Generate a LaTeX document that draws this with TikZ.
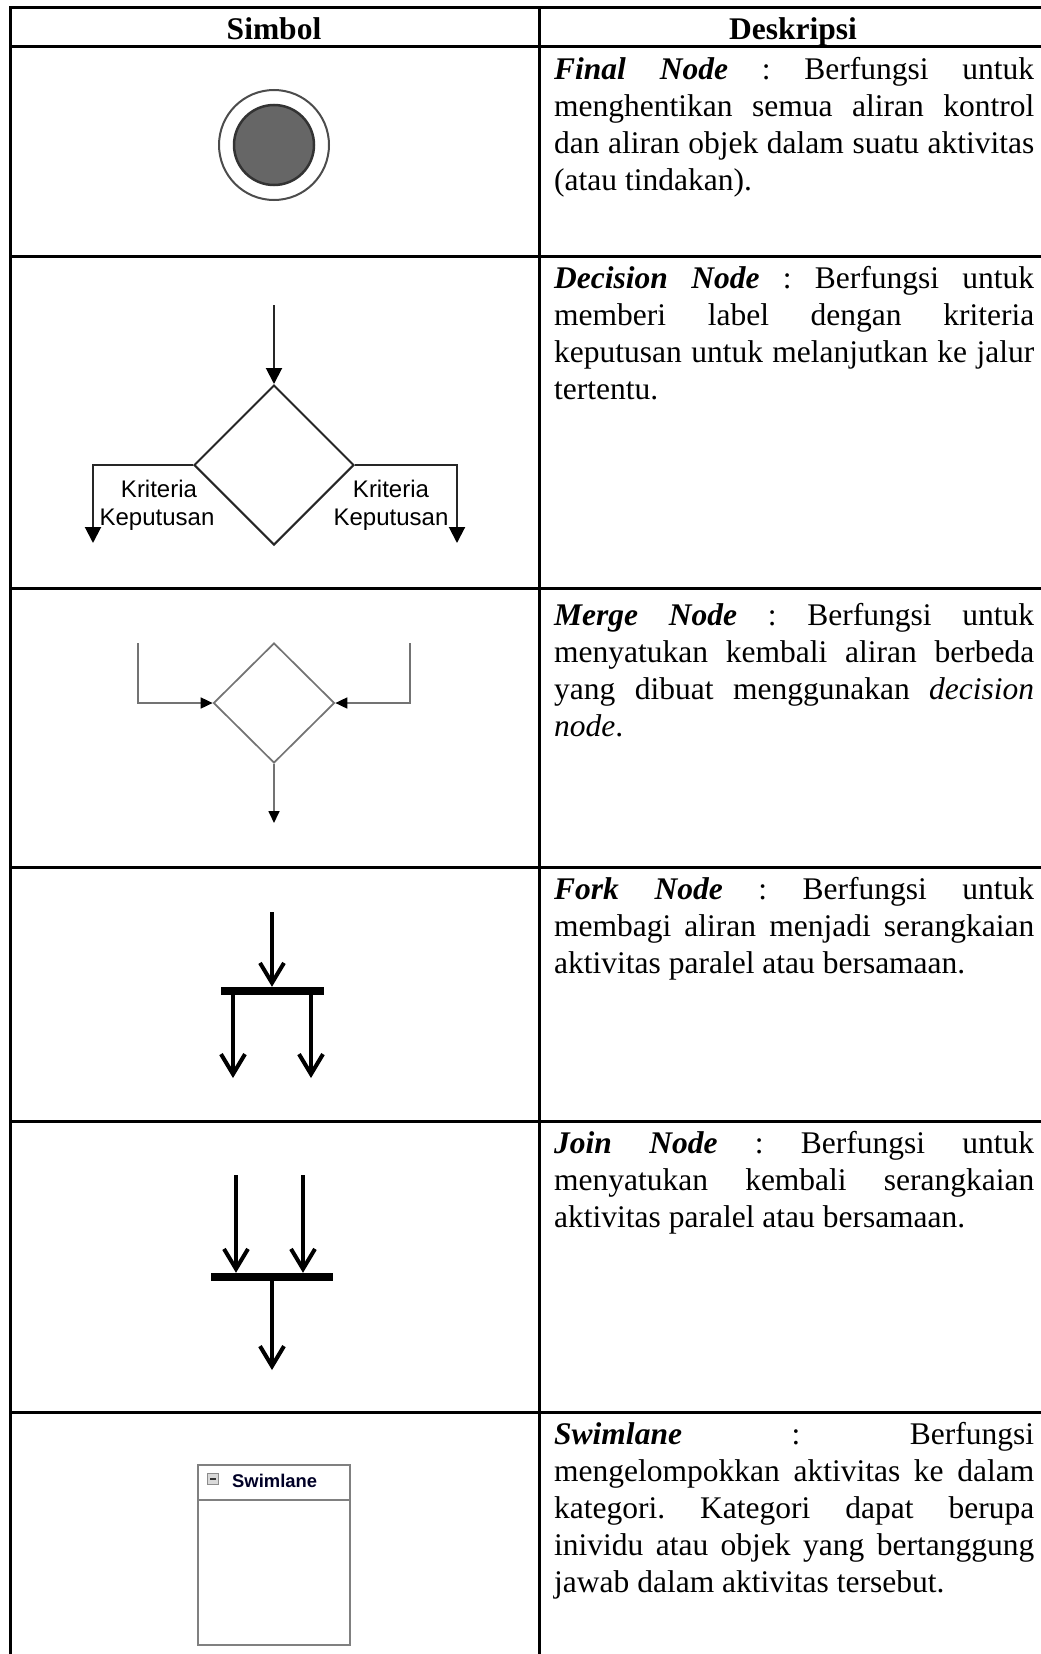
\documentclass[tikz,border=0pt]{standalone}
\usepackage{fontspec}
\setmainfont{Liberation Serif}
\newfontfamily\arialf{Liberation Sans}
\usetikzlibrary{shapes.geometric,arrows.meta}
\frenchspacing
\begin{document}
\begin{tikzpicture}[x=1pt,y=-1pt,
  tbl/.style={line width=3pt,black},
  desc/.style={anchor=north west,inner sep=0pt,text width=480pt,align=justify,font=\fontsize{31.5}{37}\selectfont},
  hdr/.style={inner sep=0pt,anchor=base,font=\fontsize{31.5}{37}\selectfont\bfseries},
  dline/.style={line width=2pt,draw=black!85},
  dtip/.style={-{Triangle[width=16pt,length=16pt,color=black]}},
  mline/.style={line width=1.7pt,draw=black!55},
  mtip/.style={-{Triangle[width=11pt,length=12pt,color=black]}},
  fline/.style={line width=4pt,black},
  ftip/.style={-{Straight Barb[width=24pt,length=20pt]}},
  barbox/.style={draw=none,fill=black,inner sep=0pt},
  lbl/.style={font=\arialf\fontsize{24}{27}\selectfont,inner sep=0pt,anchor=base},
  swl/.style={draw=black!50,line width=2pt},
]
\useasboundingbox (0,0) rectangle (1041,1654);
% table
\draw[tbl] (10,1654) -- (10,8) -- (1041,8);
\draw[tbl] (539,8) -- (539,1654);
\foreach \yy in {47,256,588,867,1121,1412} \draw[tbl] (10,\yy) -- (1041,\yy);
% headers
\node[hdr] (h1) at (274,40) {Simbol};
\node[hdr] (h2) at (793,40) {Deskripsi};
% descriptions
\node[desc] (d1) at (554,53.1) {\strut\textbf{\textit{Final Node}} : Berfungsi untuk\linebreak menghentikan semua aliran kontrol\linebreak dan aliran objek dalam suatu aktivitas\linebreak (atau tindakan).};
\node[desc] (d2) at (554,262.1) {\strut\textbf{\textit{Decision Node}} : Berfungsi untuk\linebreak memberi label dengan kriteria\linebreak keputusan untuk melanjutkan ke jalur\linebreak tertentu.};
\node[desc] (d3) at (554,599.1) {\strut\textbf{\textit{Merge Node}} : Berfungsi untuk\linebreak menyatukan kembali aliran berbeda\linebreak yang dibuat menggunakan \textit{decision}\linebreak \textit{node}.};
\node[desc] (d4) at (554,873.1) {\strut\textbf{\textit{Fork Node}} : Berfungsi untuk\linebreak membagi aliran menjadi serangkaian\linebreak aktivitas paralel atau bersamaan.};
\node[desc] (d5) at (554,1127.1) {\strut\textbf{\textit{Join Node}} : Berfungsi untuk\linebreak menyatukan kembali serangkaian\linebreak aktivitas paralel atau bersamaan.};
\node[desc] (d6) at (554,1418.1) {\strut\textbf{\textit{Swimlane}} : Berfungsi\linebreak mengelompokkan aktivitas ke dalam\linebreak kategori. Kategori dapat berupa\linebreak inividu atau objek yang bertanggung\linebreak jawab dalam aktivitas tersebut.};
% final node
\node[circle,draw=black!70,line width=2pt,minimum size=110pt,inner sep=0pt] (fout) at (274,145) {};
\node[circle,draw=black!80,fill=black!60,line width=2.5pt,minimum size=80pt,inner sep=0pt] (fin) at (274,145) {};
% decision node
\node[diamond,draw=black!85,line width=2pt,minimum width=160pt,minimum height=160pt,inner sep=0pt] (dec) at (274,465) {};
\coordinate (decin) at (274,305);
\coordinate (decL) at (93,543);
\coordinate (decR) at (457,543);
\draw[dline,dtip] (decin) -- (dec.north);
\draw[dline,dtip] (dec.west) -| (decL);
\draw[dline,dtip] (dec.east) -| (decR);
\node[lbl] (k1a) at (159,497) {Kriteria};
\node[lbl] (k1b) at (157,525) {Keputusan};
\node[lbl] (k2a) at (391,497) {Kriteria};
\node[lbl] (k2b) at (391,525) {Keputusan};
% merge node
\node[diamond,draw=black!55,line width=1.7pt,minimum width=121pt,minimum height=120pt,inner sep=0pt] (mrg) at (274,703) {};
\coordinate (mL) at (138,643);
\coordinate (mR) at (410,643);
\coordinate (mO) at (274,823);
\draw[mline,mtip] (mL) |- (mrg.west);
\draw[mline,mtip] (mR) |- (mrg.east);
\draw[mline,mtip] (mrg.south) -- (mO);
% fork node
\node[barbox,minimum width=103pt,minimum height=8pt] (fbar) at (272.5,991) {};
\coordinate (fkin) at (272,912);
\coordinate (fko1) at (233,1078);
\coordinate (fko2) at (311,1078);
\draw[fline,ftip] (fkin) -- (fkin |- fbar.north);
\draw[fline,ftip] (fko1 |- fbar.south) -- (fko1);
\draw[fline,ftip] (fko2 |- fbar.south) -- (fko2);
% join node
\node[barbox,minimum width=122pt,minimum height=8pt] (jbar) at (272,1277) {};
\coordinate (jin1) at (236,1175);
\coordinate (jin2) at (303,1175);
\coordinate (jout) at (272,1370);
\draw[fline,ftip] (jin1) -- (jin1 |- jbar.north);
\draw[fline,ftip] (jin2) -- (jin2 |- jbar.north);
\draw[fline,ftip] (jbar.south) -- (jout);
% swimlane
\node[swl,minimum width=152pt,minimum height=180pt,inner sep=0pt] (swim) at (274,1555) {};
\draw[swl] ([yshift=-36pt]swim.north west) -- ([yshift=-36pt]swim.north east);
\node[draw=black!45,fill=black!15,line width=1pt,minimum size=11pt,inner sep=0pt] (icon) at (213,1479) {};
\draw[line width=1.5pt,black!80] ([xshift=-3pt]icon.center) -- ([xshift=3pt]icon.center);
\node[anchor=base west,inner sep=0pt,font=\arialf\bfseries\fontsize{18.4}{20}\selectfont,text=blue!15!black] (swt) at (232,1487) {Swimlane};
\end{tikzpicture}
\end{document}
